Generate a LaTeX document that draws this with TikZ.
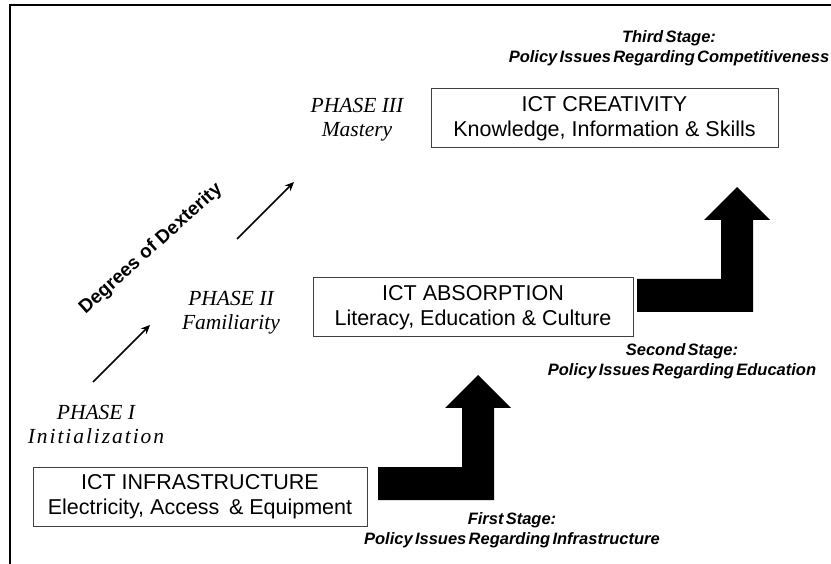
\documentclass[tikz,border=0pt]{standalone}
\usepackage{fontspec}
\setmainfont{Liberation Sans}
\newfontfamily\phasefont{Liberation Serif}
\newfontfamily\phasewidefont{Liberation Serif}[LetterSpace=9]
\newfontfamily\stagefont{Liberation Sans}[WordSpace=0.5]
\usetikzlibrary{arrows.meta}

\begin{document}
\begin{tikzpicture}[x=1pt,y=-1pt,
  levelbox/.style={draw=black!75, line width=1pt, minimum height=59pt,
    inner sep=0pt, align=center, font=\fontsize{21.5}{25}\selectfont},
  phase/.style={align=center, font=\phasefont\itshape\fontsize{21.5}{24}\selectfont},
  stage/.style={align=center, font=\stagefont\bfseries\itshape\fontsize{16.5}{20}\selectfont},
  dexarrow/.style={-{Stealth[length=9pt,width=8pt]}, line width=1.6pt},
  stagearrow/.pic={
    \fill[black] (0,0) -- (0,-33) -- (84,-33) -- (84,-92) -- (67,-92)
      -- (100,-125) -- (133,-92) -- (116,-92) -- (116,0) -- cycle;
  },
]
\useasboundingbox (0,0) rectangle (831,564);

% open frame
\draw[line width=2pt] (10,564) -- (10,5) -- (831,5);

% levels
\node[levelbox, minimum width=334pt] (infra) at (200,496.5)
  {ICT INFRASTRUCTURE\\Electricity, Access \,\& Equipment};
\node[levelbox, minimum width=320pt] (absorb) at (473,307.5)
  {ICT ABSORPTION\\Literacy, Education \& Culture};
\node[levelbox, minimum width=347pt] (create) at (604.5,118.5)
  {ICT CREATIVITY\\Knowledge, Information \& Skills};

% phases
\node[phase] (p1) at (96,424) {PHASE I\\{\phasewidefont\itshape Initialization}};
\node[phase] (p2) at (231,313) {PHASE II\\Familiarity};
\node[phase] (p3) at (357,120) {PHASE III\\Mastery};

% progression arrows
\coordinate (d1s) at (93,382);
\coordinate (d1e) at (150,325);
\coordinate (d2s) at (237,239);
\coordinate (d2e) at (294,182);
\draw[dexarrow] (d1s) -- (d1e);
\draw[dexarrow] (d2s) -- (d2e);
\node[rotate=42, font=\bfseries\fontsize{19}{21}\selectfont] (dex) at (151,249)
  {Degrees of Dexterity};

% stage arrows
\pic at (378,500) {stagearrow};
\pic at (637,312) {stagearrow};

% stage labels
\node[stage] (s1) at (512,530) {First Stage:\\Policy Issues Regarding Infrastructure};
\node[stage] (s2) at (682,361) {Second Stage:\\Policy Issues Regarding Education};
\node[stage] (s3) at (669,48) {Third Stage:\\Policy Issues Regarding Competitiveness};
\end{tikzpicture}
\end{document}
